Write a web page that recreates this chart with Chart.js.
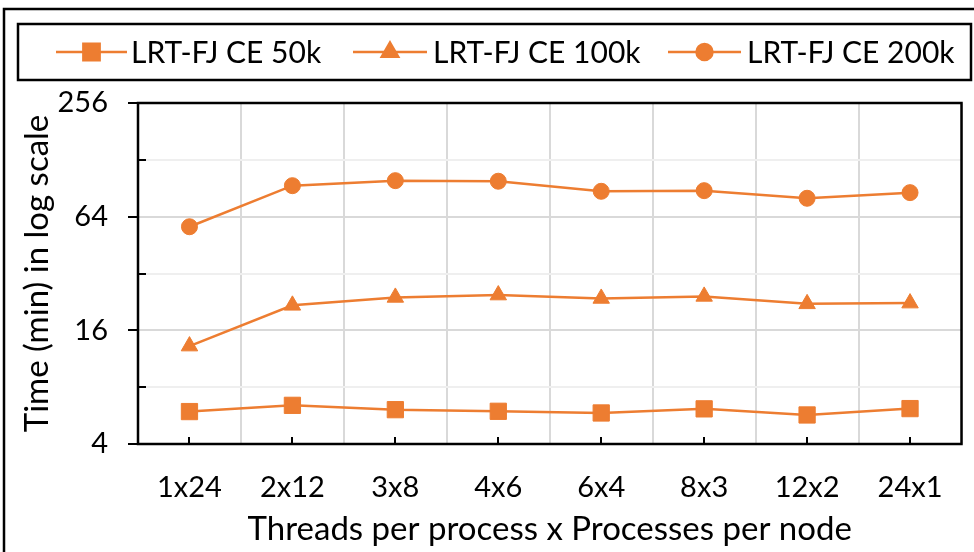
<!DOCTYPE html>
<html>
<head>
<meta charset="utf-8">
<script src="https://cdn.jsdelivr.net/npm/chart.js@4.4.1/dist/chart.umd.min.js"></script>
<style>
  html, body { margin: 0; padding: 0; background: #fff; }
  #wrap { position: relative; width: 974px; height: 552px; }
</style>
</head>
<body>
<div id="wrap"><canvas id="chart" width="974" height="552"></canvas></div>
<script>
// threads x processes configurations
const configs = ['1x24', '2x12', '3x8', '4x6', '6x4', '8x3', '12x2', '24x1'];

// run time in minutes
const ce50k  = [5.94, 6.41, 6.08, 5.96, 5.84, 6.14, 5.70, 6.16];
const ce100k = [13.2, 21.7, 23.9, 24.6, 23.6, 24.2, 22.1, 22.3];
const ce200k = [56.6, 93.4, 99.3, 98.6, 87.2, 87.9, 80.1, 85.8];

const seriesNames = ['LRT-FJ CE 50k', 'LRT-FJ CE 100k', 'LRT-FJ CE 200k'];

// log2 ticks, only every other one gets a label
const yTicks = [4, 8, 16, 32, 64, 128, 256];
const yLabelled = [4, 16, 64, 256];

const orange = '#ED7D31';
const FONT = 'Lato, "Open Sans", sans-serif';

Chart.defaults.font.family = FONT;
Chart.defaults.color = '#000';

function series(label, data, style, radius) {
  return {
    label: label,
    data: data,
    borderColor: orange,
    backgroundColor: orange,
    borderWidth: 2.5,
    pointStyle: style,
    pointRadius: radius,
    pointHoverRadius: radius,
    pointBorderWidth: 1,
    pointBackgroundColor: orange,
    pointBorderColor: orange,
    tension: 0,
    clip: false
  };
}

const datasets = [
  series(seriesNames[0], ce50k, 'rect', 11.5),
  series(seriesNames[1], ce100k, 'triangle', 9.5),
  series(seriesNames[2], ce200k, 'circle', 8)
];

// frame, tick marks and the boxed legend
const decorations = {
  id: 'decorations',
  beforeDraw(chart) {
    const c = chart.ctx;
    c.save();
    c.fillStyle = '#fff';
    c.fillRect(0, 0, chart.width, chart.height);
    c.restore();
  },
  afterDatasetsDraw(chart) {
    const c = chart.ctx;
    const a = chart.chartArea;
    const ys = chart.scales.y;
    const xs = chart.scales.x;
    c.save();
    c.strokeStyle = '#000';
    c.lineWidth = 2.5;
    c.strokeRect(a.left, a.top, a.right - a.left, a.bottom - a.top);

    c.lineWidth = 2;
    c.beginPath();
    yTicks.forEach(v => {
      const py = Math.round(ys.getPixelForValue(v));
      if (yLabelled.includes(v)) {
        c.moveTo(a.left - 10, py);
        c.lineTo(a.left, py);
      } else {
        c.moveTo(a.left, py);
        c.lineTo(a.left + 8, py);
      }
    });
    configs.forEach((_, i) => {
      const px = Math.round(xs.getPixelForValue(i));
      c.moveTo(px, a.bottom);
      c.lineTo(px, a.bottom - 7);
    });
    c.stroke();
    c.restore();
  },
  afterDraw(chart) {
    const c = chart.ctx;
    c.save();
    // outer border
    c.strokeStyle = '#000';
    c.lineWidth = 2.5;
    c.strokeRect(4, 9, 1200, 800);
    // legend box
    c.strokeRect(18, 24, 953, 56);

    const items = [
      { x1: 56, x2: 127, tx: 131 },
      { x1: 353, x2: 427, tx: 433 },
      { x1: 668, x2: 741, tx: 747 }
    ];
    const ly = 52;
    items.forEach((it, i) => {
      const ds = chart.data.datasets[i];
      c.strokeStyle = orange;
      c.lineWidth = 2.5;
      c.beginPath();
      c.moveTo(it.x1, ly);
      c.lineTo(it.x2, ly);
      c.stroke();
      c.fillStyle = orange;
      Chart.helpers.drawPoint(c, {
        pointStyle: ds.pointStyle,
        radius: ds.pointRadius,
        rotation: 0,
        borderWidth: 1
      }, (it.x1 + it.x2) / 2, ly);
      c.fillStyle = '#000';
      c.font = '30px ' + FONT;
      c.textBaseline = 'middle';
      c.textAlign = 'left';
      c.fillText(ds.label, it.tx, ly + 1);
    });
    c.restore();
  }
};

new Chart(document.getElementById('chart'), {
  type: 'line',
  data: { labels: configs, datasets: datasets },
  plugins: [decorations],
  options: {
    responsive: false,
    animation: false,
    events: [],
    layout: { padding: { left: 18, right: 3, top: 103, bottom: 0 } },
    plugins: {
      legend: { display: false },
      tooltip: { enabled: false }
    },
    scales: {
      x: {
        type: 'category',
        offset: true,
        border: { display: false },
        grid: {
          offset: true,
          drawTicks: false,
          color: '#d9d9d9',
          lineWidth: 2
        },
        ticks: {
          padding: 26,
          maxRotation: 0,
          autoSkip: false,
          font: { size: 29 }
        },
        title: {
          display: true,
          text: 'Threads per process x Processes per node',
          font: { size: 33 },
          padding: { top: 0, bottom: 3 }
        },
        afterFit(scale) { scale.height = 108; }
      },
      y: {
        type: 'logarithmic',
        min: 4,
        max: 256,
        border: { display: false },
        afterBuildTicks(scale) {
          scale.ticks = yTicks.map(v => ({ value: v }));
        },
        grid: {
          drawTicks: false,
          lineWidth: 2,
          color: ctx => yLabelled.includes(ctx.tick && ctx.tick.value) ? '#d9d9d9' : '#efefef'
        },
        ticks: {
          padding: 30,
          autoSkip: false,
          font: { size: 29 },
          callback: v => yLabelled.includes(v) ? String(v) : ''
        },
        title: {
          display: true,
          text: 'Time (min) in log scale',
          font: { size: 33 },
          padding: { top: 0, bottom: 0 }
        },
        afterFit(scale) { scale.width = 120; }
      }
    }
  }
});
</script>
</body>
</html>
